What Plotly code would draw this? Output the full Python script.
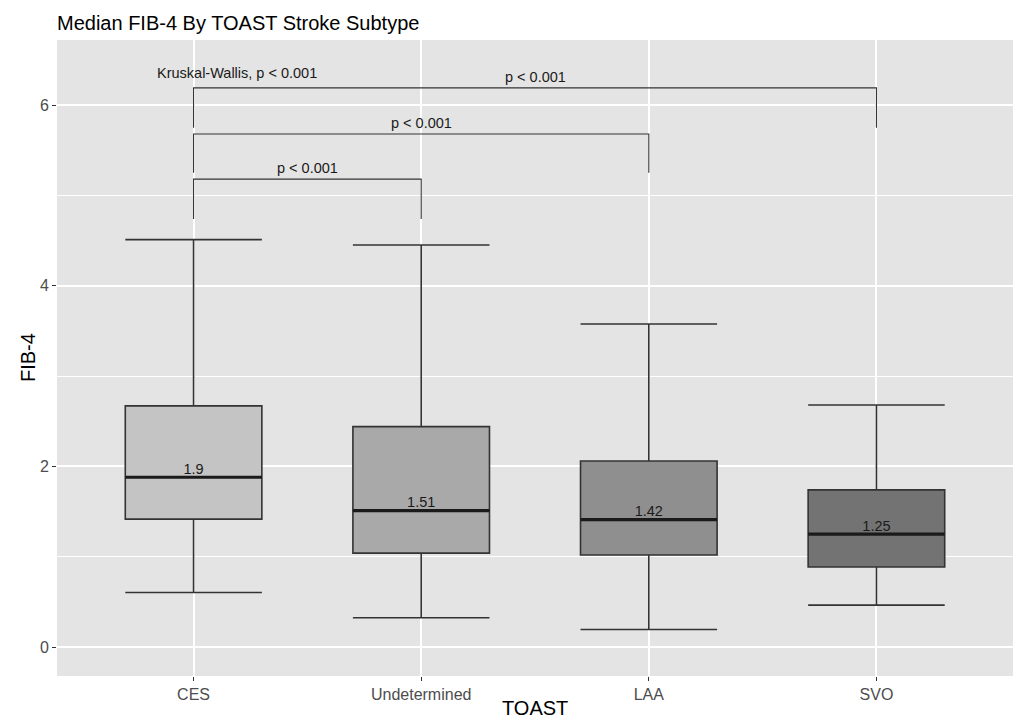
import plotly.graph_objects as go

# ---- data ----
categories = ["CES", "Undetermined", "LAA", "SVO"]
lower_whisker = [0.605, 0.325, 0.195, 0.465]
q1_values = [1.417, 1.04, 1.02, 0.886]
median_values = [1.88, 1.51, 1.41, 1.25]
median_labels = ["1.9", "1.51", "1.42", "1.25"]
q3_values = [2.67, 2.44, 2.06, 1.74]
upper_whisker = [4.51, 4.45, 3.576, 2.68]
fill_colors = ["#C4C4C4", "#A9A9A9", "#8F8F8F", "#737373"]

# pairwise comparisons (index pairs, bracket height, tip bottom, label)
comp_pairs = [(0, 1), (0, 2), (0, 3)]
comp_heights = [5.18, 5.68, 6.19]
comp_tips = [4.74, 5.25, 5.75]
comp_labels = ["p < 0.001", "p < 0.001", "p < 0.001"]
global_label = "Kruskal-Wallis, p < 0.001"

FONT = "Liberation Sans, Arial, Helvetica, sans-serif"
LINE = "#333333"
BOX_W = 0.6
pos = [i + 1 for i in range(len(categories))]

fig = go.Figure()

for i, cat in enumerate(categories):
    fig.add_trace(go.Box(
        x=[pos[i]], q1=[q1_values[i]], median=[median_values[i]],
        q3=[q3_values[i]], lowerfence=[lower_whisker[i]],
        upperfence=[upper_whisker[i]], width=BOX_W, whiskerwidth=1,
        fillcolor=fill_colors[i], line=dict(color=LINE, width=1.6),
        boxpoints=False, name=cat, showlegend=False, hoverinfo="skip",
    ))
    # thicker median line (ggplot style)
    fig.add_trace(go.Scatter(
        x=[pos[i] - BOX_W / 2, pos[i] + BOX_W / 2],
        y=[median_values[i], median_values[i]], mode="lines",
        line=dict(color="#1A1A1A", width=3.2), showlegend=False, hoverinfo="skip",
    ))

# median labels
fig.add_trace(go.Scatter(
    x=pos, y=median_values, mode="text", text=median_labels,
    textposition="top center",
    textfont=dict(family=FONT, size=14.5, color="#1A1A1A"),
    showlegend=False, hoverinfo="skip",
))

# comparison brackets
for (a, b), h, tip, lab in zip(comp_pairs, comp_heights, comp_tips, comp_labels):
    fig.add_trace(go.Scatter(
        x=[pos[a], pos[a], pos[b], pos[b]], y=[tip, h, h, tip], mode="lines",
        line=dict(color=LINE, width=1.1), showlegend=False, hoverinfo="skip",
    ))
    fig.add_annotation(
        x=(pos[a] + pos[b]) / 2, y=h, text=lab, showarrow=False,
        yanchor="bottom", yshift=1,
        font=dict(family=FONT, size=14.5, color="#1A1A1A"),
    )

fig.add_annotation(
    x=1.19, y=6.35, text=global_label, showarrow=False,
    xanchor="center", yanchor="middle",
    font=dict(family=FONT, size=14.5, color="#1A1A1A"),
)

# axis titles
fig.add_annotation(
    x=0.5, y=0, xref="paper", yref="paper", text="TOAST", showarrow=False,
    yanchor="middle", yshift=-32, font=dict(family=FONT, size=20, color="#000000"),
)
fig.add_annotation(
    x=0, y=0.5, xref="paper", yref="paper", text="FIB-4", showarrow=False,
    textangle=-90, xanchor="center", xshift=-29,
    font=dict(family=FONT, size=20, color="#000000"),
)

fig.update_layout(
    width=1013, height=718,
    margin=dict(l=57, r=0, t=40, b=42),
    paper_bgcolor="white", plot_bgcolor="#E4E4E4",
    title=dict(text="Median FIB-4 By TOAST Stroke Subtype", x=0, xref="paper",
               xanchor="left", y=1 - 22.7 / 718, yanchor="middle",
               font=dict(family=FONT, size=20, color="#000000")),
    font=dict(family=FONT),
    xaxis=dict(
        range=[0.4, 4.6], tickvals=pos, ticktext=categories,
        showgrid=True, gridcolor="white", gridwidth=1.8, zeroline=False,
        ticks="outside", ticklen=4, tickcolor=LINE, tickwidth=1,
        tickfont=dict(family=FONT, size=16, color="#4D4D4D"),
        showline=False,
    ),
    yaxis=dict(
        range=[-0.32, 6.72], tickvals=[0, 2, 4, 6],
        showgrid=True, gridcolor="white", gridwidth=1.8, zeroline=False,
        ticks="outside", ticklen=4, tickcolor=LINE, tickwidth=1,
        tickfont=dict(family=FONT, size=16, color="#4D4D4D"),
        minor=dict(tickvals=[1, 3, 5], showgrid=True, gridcolor="white",
                   gridwidth=0.9, ticks=""),
        showline=False,
    ),
)

fig.write_html(
    "out.html",
    config={"displayModeBar": False},
    post_script="document.body.style.margin='0';document.body.style.overflow='hidden';",
)
